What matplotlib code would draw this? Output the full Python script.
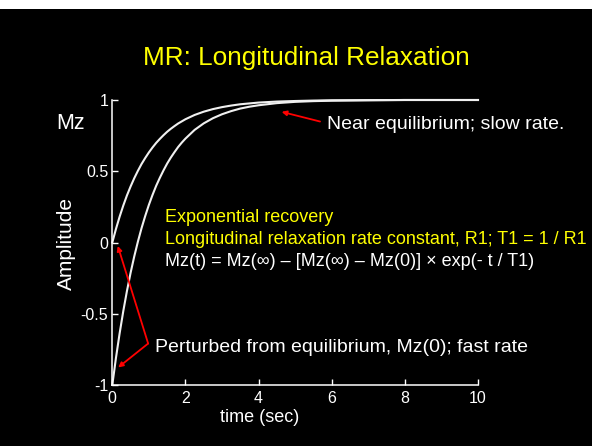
import matplotlib
matplotlib.use("Agg")
import matplotlib.pyplot as plt
from matplotlib.patches import Rectangle

plt.rcParams['font.family'] = ['Liberation Sans', 'DejaVu Sans']

# time axis (sec)
t = [0, 0.1, 0.2, 0.3, 0.4, 0.5, 0.6, 0.7, 0.8, 0.9, 1.0, 1.1, 1.2, 1.3,
     1.4, 1.5, 1.6, 1.7, 1.8, 1.9, 2.0, 2.25, 2.5, 2.75, 3.0, 3.25, 3.5,
     3.75, 4.0, 4.5, 5.0, 5.5, 6.0, 7.0, 8.0, 10.0]
# recovery from Mz(0) = 0
mz_from_zero = [0.0, 0.095, 0.181, 0.259, 0.330, 0.393, 0.451, 0.503, 0.551,
                0.593, 0.632, 0.667, 0.699, 0.727, 0.753, 0.777, 0.798, 0.817,
                0.835, 0.850, 0.865, 0.895, 0.918, 0.936, 0.950, 0.961, 0.970,
                0.976, 0.982, 0.989, 0.993, 0.996, 0.998, 0.999, 1.0, 1.0]
# recovery from Mz(0) = -1
mz_from_minus1 = [-1.0, -0.810, -0.638, -0.482, -0.341, -0.213, -0.098, 0.006,
                  0.101, 0.186, 0.264, 0.334, 0.398, 0.454, 0.506, 0.554,
                  0.596, 0.634, 0.670, 0.701, 0.729, 0.790, 0.836, 0.872,
                  0.900, 0.922, 0.940, 0.953, 0.963, 0.978, 0.987, 0.992,
                  0.995, 0.998, 1.0, 1.0]

xticks = [0, 2, 4, 6, 8, 10]
xticklabels = ['0', '2', '4', '6', '8', '10']
yticks = [-1, -0.5, 0, 0.5, 1]
yticklabels = ['-1', '-0.5', '0', '0.5', '1']

title = "MR: Longitudinal Relaxation"
notes = ["Exponential recovery",
         "Longitudinal relaxation rate constant, R1; T1 = 1 / R1",
         "Mz(t) = Mz(\u221e) \u2013 [Mz(\u221e) \u2013 Mz(0)] \u00d7 exp(- t / T1)"]

W, H = 592, 446
fig = plt.figure(figsize=(W / 100, H / 100), dpi=100, facecolor='black')
fig.patches.append(Rectangle((0, 1 - 9 / H), 1, 9 / H, transform=fig.transFigure,
                             facecolor='white', edgecolor='none', zorder=0))

ax = fig.add_axes([112.3 / W, 1 - 385 / H, 365.7 / W, 285 / H])
ax.set_facecolor('black')
ax.plot(t, mz_from_zero, color='#f0f0f0', lw=1.5, clip_on=False)
ax.plot(t, mz_from_minus1, color='#f0f0f0', lw=1.5, clip_on=False)
ax.set_xlim(0, 10)
ax.set_ylim(-1, 1)
for s in ['top', 'right']:
    ax.spines[s].set_visible(False)
for s in ['left', 'bottom']:
    ax.spines[s].set_color('white')
    ax.spines[s].set_linewidth(1.1)
ax.set_xticks(xticks)
ax.set_xticklabels(xticklabels)
ax.set_yticks(yticks)
ax.set_yticklabels(yticklabels)
ax.tick_params(axis='both', direction='in', colors='white', labelsize=11.5,
               width=1, length=4)
ax.tick_params(axis='y', pad=3)
ax.tick_params(axis='x', pad=4)

fig.text(306 / W, 1 - 65 / H, title, color='#ffff00', fontsize=18.8,
         ha='center', va='baseline')
fig.text(66 / W, 1 - 243 / H, "Amplitude", color='white', fontsize=15,
         rotation=90, ha='center', va='center')
fig.text(260 / W, 1 - 418 / H, "time (sec)", color='white', fontsize=13,
         ha='center', va='center')

ax.text(-1.54, 0.80, "Mz", color='white', fontsize=15.5, ha='left',
        va='baseline', clip_on=False)

ax.text(1.44, 0.145, notes[0], color='#ffff00', fontsize=13, va='baseline')
ax.text(1.44, -0.012, notes[1], color='#ffff00', fontsize=13, va='baseline')
ax.text(1.44, -0.164, notes[2], color='white', fontsize=13, va='baseline')

ax.text(5.86, 0.795, "Near equilibrium; slow rate.", color='white', fontsize=14,
        va='baseline')
ax.text(1.17, -0.77, "Perturbed from equilibrium, Mz(0); fast rate",
        color='white', fontsize=14, va='baseline')

arrow = dict(arrowstyle='-|>', color='red', lw=1.3, mutation_scale=7,
             shrinkA=0, shrinkB=0)
ax.annotate("", xy=(4.63, 0.917), xytext=(5.68, 0.849), arrowprops=arrow,
            annotation_clip=False)
ax.annotate("", xy=(0.15, -0.024), xytext=(0.98, -0.709), arrowprops=arrow,
            annotation_clip=False)
ax.annotate("", xy=(0.16, -0.877), xytext=(0.98, -0.709), arrowprops=arrow,
            annotation_clip=False)

fig.savefig("out.png", dpi=100, facecolor='black')
